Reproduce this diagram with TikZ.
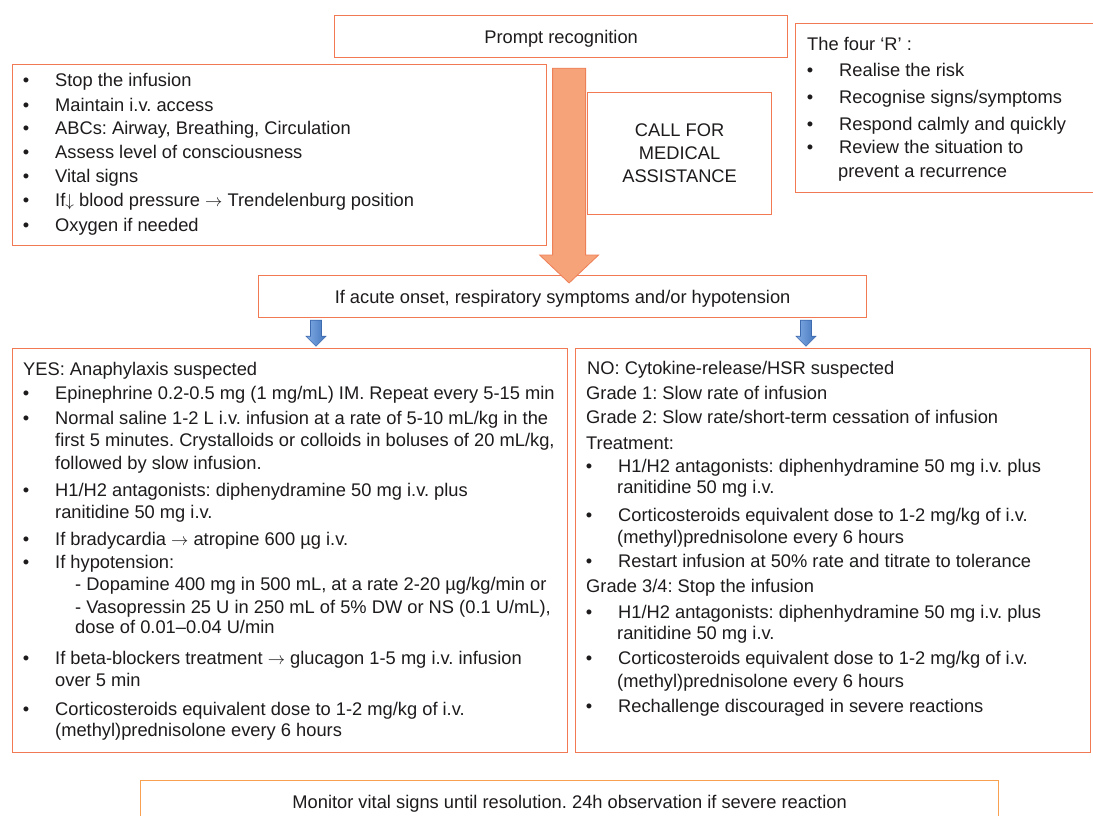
\documentclass[tikz,border=0pt]{standalone}
\usepackage{fontspec}
\setmainfont{Liberation Sans}
\usetikzlibrary{calc}
\definecolor{boxline}{RGB}{241,122,84}
\definecolor{bottomline}{RGB}{247,160,80}
\definecolor{arrfill}{RGB}{246,163,122}
\definecolor{arrline}{RGB}{238,128,88}
\definecolor{txtc}{RGB}{30,27,28}
\definecolor{blueA}{RGB}{130,172,228}
\definecolor{blueB}{RGB}{68,118,190}
\definecolor{blueL}{RGB}{62,106,175}

% bullet line: bullet sits 29pt left of the text start
\newcommand\bitem[4]{\node[dot] (#1b) at (#2-29,#3) {•}; \node[txt] (#1) at (#2,#3) {#4};}
% plain text line
\newcommand\tline[4]{\node[txt] (#1) at (#2,#3) {#4};}

\frenchspacing
\begin{document}
\begin{tikzpicture}[x=1pt,y=-1pt,
  frame/.style={draw=boxline, line width=1.2pt, inner sep=0pt, anchor=north west,
    text=txtc, font=\fontsize{18.3}{23}\selectfont, text depth=0pt, align=center},
  txt/.style={anchor=base west, inner sep=0pt, text=txtc, font=\fontsize{18.3}{22}\selectfont},
  dot/.style={anchor=base, inner sep=0pt, text=txtc, font=\fontsize{18.3}{22}\selectfont},
  bigarrow/.style={draw=arrline, fill=arrfill, line width=0.8pt, line join=miter},
  bluearrow/.style={draw=blueL, left color=blueA, right color=blueB, line width=0.6pt},
]
\fill[white] (0,0) rectangle (1093,816);
\useasboundingbox (0,0) rectangle (1093,816);

% ---- boxes ----
\node[frame, minimum width=453pt, minimum height=42pt] (prompt) at (334,15) {Prompt recognition};
\node[frame, minimum width=534pt, minimum height=181pt] (first) at (12,64) {};
\node[frame, minimum width=184pt, minimum height=122pt] (call) at (587,92) {CALL FOR\\MEDICAL\\ASSISTANCE};
\node[frame, minimum width=320pt, minimum height=169pt] (fourr) at (795,23) {};
\node[frame, minimum width=608pt, minimum height=42pt] (decision) at (258,275) {If acute onset, respiratory symptoms and/or hypotension};
\node[frame, minimum width=555pt, minimum height=404pt] (yes) at (12,348) {};
\node[frame, minimum width=515pt, minimum height=404pt] (no) at (575,348) {};
\node[frame, draw=bottomline, minimum width=858pt, minimum height=42pt] (monitor) at (140,780) {Monitor vital signs until resolution. 24h observation if severe reaction};

% ---- immediate actions ----
\bitem{s1}{55}{87}{Stop the infusion}
\bitem{s2}{55}{111}{Maintain i.v. access}
\bitem{s3}{55}{134}{ABCs: Airway, Breathing, Circulation}
\bitem{s4}{55}{158}{Assess level of consciousness}
\bitem{s5}{55}{182}{Vital signs}
\bitem{s6}{55}{206}{If$\downarrow$ blood pressure $\rightarrow$ Trendelenburg position}
\bitem{s7}{55}{231}{Oxygen if needed}

% ---- the four R ----
\tline{r0}{807}{51}{The four ‘R’ :}
\bitem{r1}{839}{77}{Realise the risk}
\bitem{r2}{839}{103}{Recognise signs/symptoms}
\bitem{r3}{839}{130}{Respond calmly and quickly}
\bitem{r4}{839}{153}{Review the situation to}
\tline{r5}{838}{177}{prevent a recurrence}

% ---- anaphylaxis branch ----
\tline{y0}{23}{375}{YES: Anaphylaxis suspected}
\bitem{y1}{55}{399}{Epinephrine 0.2-0.5 mg (1 mg/mL) IM. Repeat every 5-15 min}
\bitem{y2}{55}{424}{Normal saline 1-2 L i.v. infusion at a rate of 5-10 mL/kg in the}
\tline{y2b}{55}{446}{first 5 minutes. Crystalloids or colloids in boluses of 20 mL/kg,}
\tline{y2c}{55}{469}{followed by slow infusion.}
\bitem{y3}{55}{496}{H1/H2 antagonists: diphenydramine 50 mg i.v. plus}
\tline{y3b}{55}{518}{ranitidine 50 mg i.v.}
\bitem{y4}{55}{545}{If bradycardia $\rightarrow$ atropine 600 µg i.v.}
\bitem{y5}{55}{568}{If hypotension:}
\tline{y5b}{75}{590}{- Dopamine 400 mg in 500 mL, at a rate 2-20 µg/kg/min or}
\tline{y5c}{75}{613}{- Vasopressin 25 U in 250 mL of 5\% DW or NS (0.1 U/mL),}
\tline{y5d}{75}{633}{dose of 0.01–0.04 U/min}
\bitem{y6}{55}{664}{If beta-blockers treatment $\rightarrow$ glucagon 1-5 mg i.v. infusion}
\tline{y6b}{55}{686}{over 5 min}
\bitem{y7}{55}{715}{Corticosteroids equivalent dose to 1-2 mg/kg of i.v.}
\tline{y7b}{55}{736}{(methyl)prednisolone every 6 hours}

% ---- cytokine-release / HSR branch ----
\tline{n0}{587}{374}{NO: Cytokine-release/HSR suspected}
\tline{n1}{586}{399}{Grade 1: Slow rate of infusion}
\tline{n2}{586}{423}{Grade 2: Slow rate/short-term cessation of infusion}
\tline{n3}{586}{449}{Treatment:}
\bitem{n4}{618}{472}{H1/H2 antagonists: diphenhydramine 50 mg i.v. plus}
\tline{n4b}{617}{493}{ranitidine 50 mg i.v.}
\bitem{n5}{618}{521}{Corticosteroids equivalent dose to 1-2 mg/kg of i.v.}
\tline{n5b}{617}{543}{(methyl)prednisolone every 6 hours}
\bitem{n6}{618}{567}{Restart infusion at 50\% rate and titrate to tolerance}
\tline{n7}{586}{592}{Grade 3/4: Stop the infusion}
\bitem{n8}{618}{618}{H1/H2 antagonists: diphenhydramine 50 mg i.v. plus}
\tline{n8b}{617}{639}{ranitidine 50 mg i.v.}
\bitem{n9}{618}{664}{Corticosteroids equivalent dose to 1-2 mg/kg of i.v.}
\tline{n9b}{617}{687}{(methyl)prednisolone every 6 hours}
\bitem{n10}{618}{712}{Rechallenge discouraged in severe reactions}

% ---- big block arrow: recognition -> decision ----
\coordinate (oa) at ($(prompt.south)+(8,10)$);
\coordinate (ob) at ($(decision.north -| oa)+(0,8)$);
\draw[bigarrow] ($(oa)+(-16.5,0)$) -- ($(oa)+(16.5,0)$) -- ($(ob)+(16.5,-28)$)
  -- ($(ob)+(29.5,-28)$) -- (ob) -- ($(ob)+(-29.5,-28)$) -- ($(ob)+(-16.5,-28)$) -- cycle;

% ---- small block arrows: decision -> branches ----
\coordinate (ya) at ($(decision.south -| 316,0)+(0,2)$);
\coordinate (na) at ($(decision.south -| 806,0)+(0,2)$);
\foreach \c in {ya,na}{
  \draw[bluearrow] ($(\c)+(-5.5,0)$) -- ($(\c)+(5.5,0)$) -- ($(\c)+(5.5,16)$) -- ($(\c)+(10,16)$)
    -- ($(\c)+(0,26)$) -- ($(\c)+(-10,16)$) -- ($(\c)+(-5.5,16)$) -- cycle;
}
\end{tikzpicture}
\end{document}
